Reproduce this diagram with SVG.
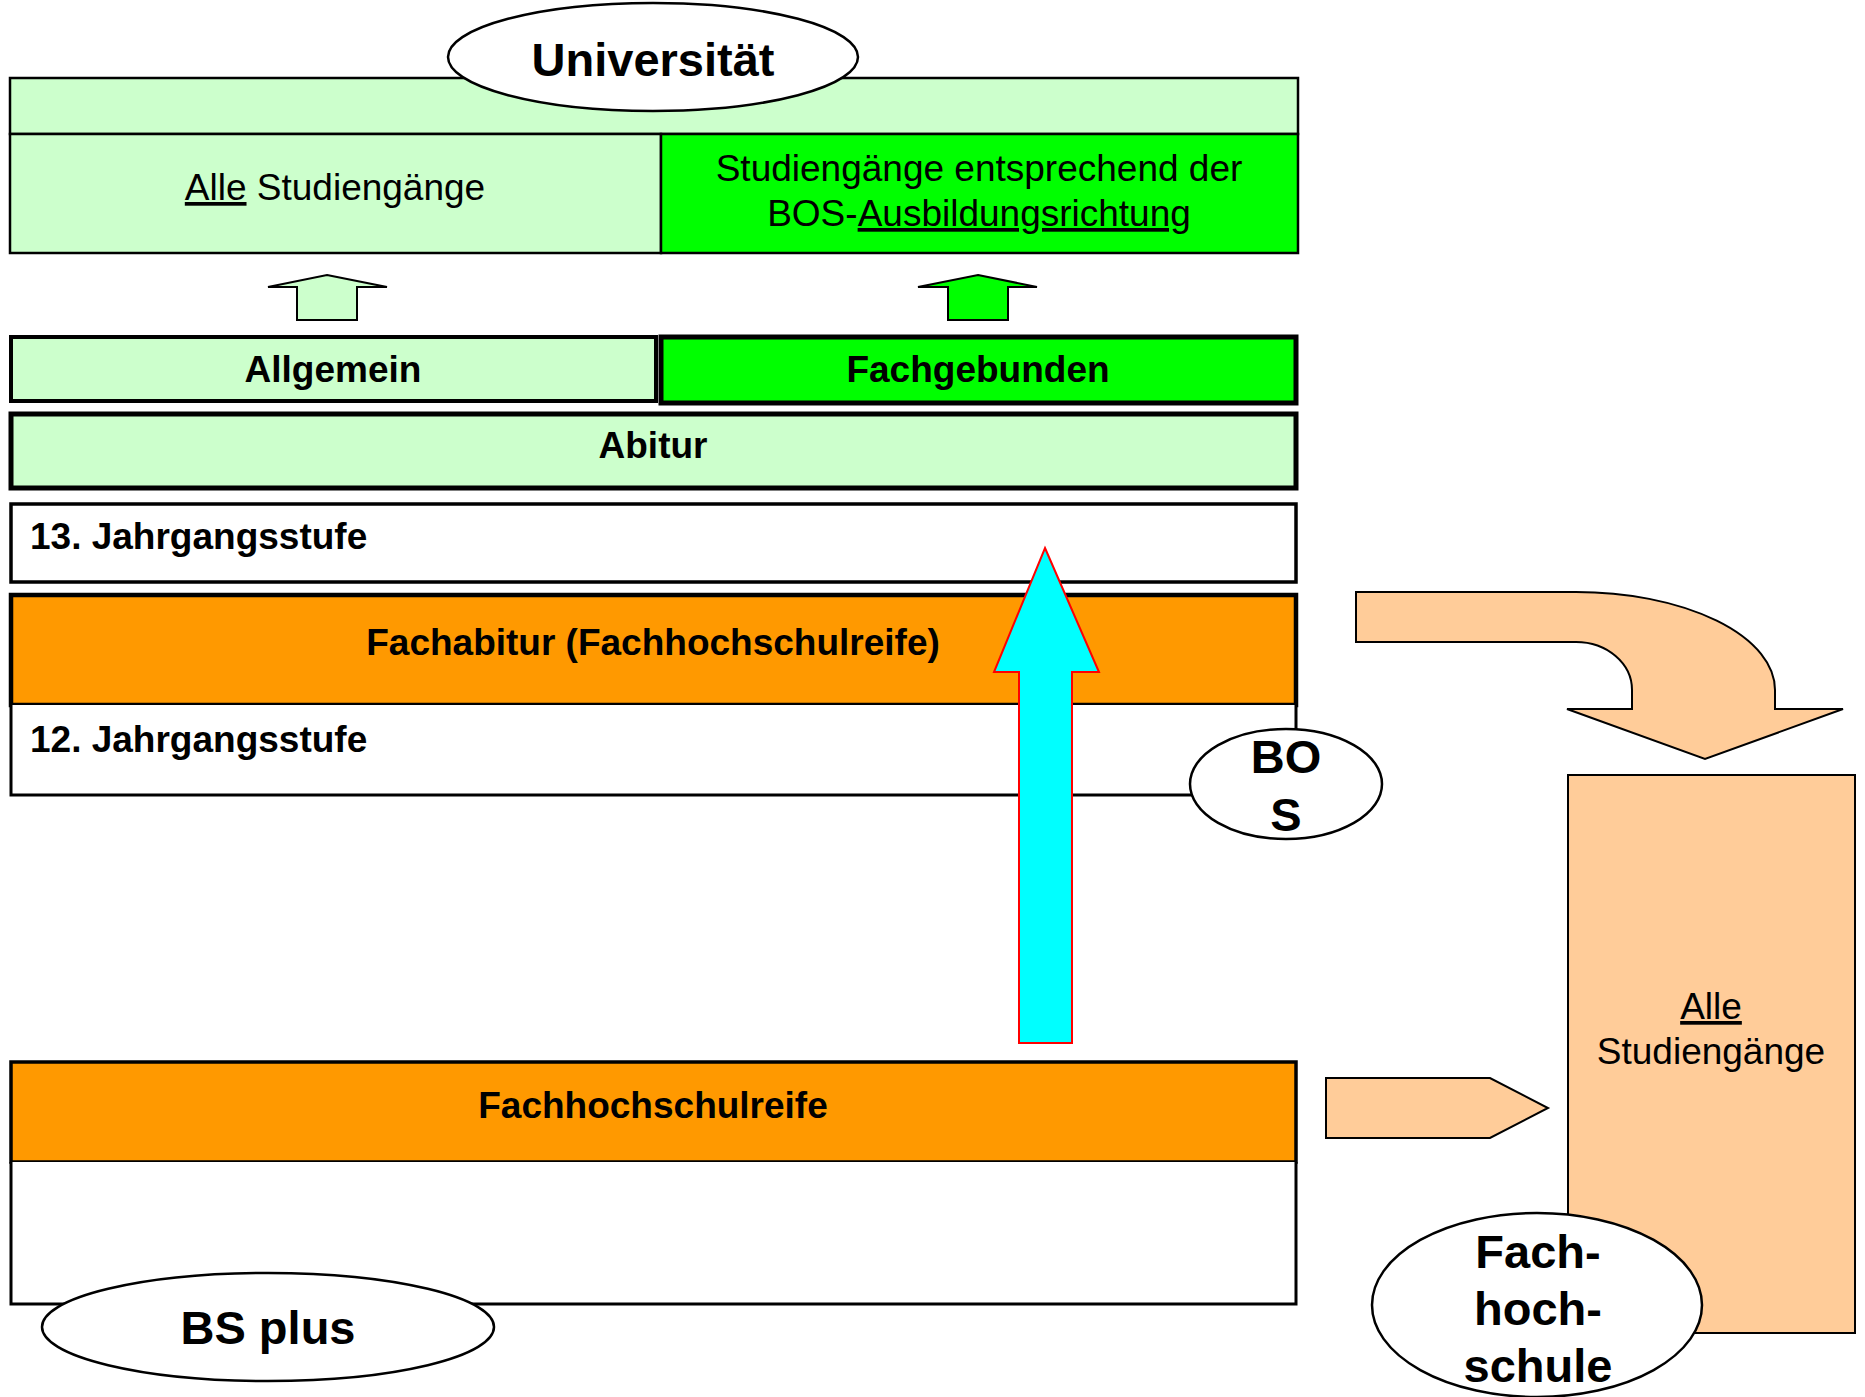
<svg xmlns="http://www.w3.org/2000/svg" width="1865" height="1397" viewBox="0 0 1865 1397">
<style>
  .b{font-family:"Liberation Sans",Arial,sans-serif;font-weight:bold;font-size:37px;fill:#000}
  .r{font-family:"Liberation Sans",Arial,sans-serif;font-size:37px;fill:#000}
  .big{font-family:"Liberation Sans",Arial,sans-serif;font-weight:bold;font-size:47px;fill:#000}
  .lg{fill:#CCFFCC}
  .g{fill:#00FF00}
  .o{fill:#FF9900}
  .p{fill:#FFCC99}
  .ell{fill:#fff;stroke:#000;stroke-width:2.5}
  .ln{stroke:#000;fill:none}
</style>
<rect width="1865" height="1397" fill="#fff"/>

<g id="uni-box">
  <rect x="10" y="78" width="1288" height="56" class="lg" stroke="#000" stroke-width="2.5"/>
  <rect x="10" y="134" width="651" height="119" class="lg" stroke="#000" stroke-width="2.5"/>
  <rect x="661" y="134" width="637" height="119" class="g" stroke="#000" stroke-width="2.5"/>
  <text class="r" x="335" y="200" text-anchor="middle"><tspan text-decoration="underline">Alle</tspan> Studiengänge</text>
  <text class="r" x="979" y="181" text-anchor="middle">Studiengänge entsprechend der</text>
  <text class="r" x="979" y="226" text-anchor="middle">BOS-<tspan text-decoration="underline">Ausbildungsrichtung</tspan></text>
</g>

<g id="allgemein">
  <rect x="11" y="337" width="645" height="64" class="lg" stroke="#000" stroke-width="4"/>
  <text class="b" x="333" y="382" text-anchor="middle">Allgemein</text>
</g>
<g id="fachgebunden">
  <rect x="661" y="337" width="635" height="66" class="g" stroke="#000" stroke-width="5"/>
  <text class="b" x="978" y="382" text-anchor="middle">Fachgebunden</text>
</g>
<g id="abitur">
  <rect x="11" y="414" width="1285" height="74" class="lg" stroke="#000" stroke-width="5"/>
  <text class="b" x="653" y="458" text-anchor="middle">Abitur</text>
</g>
<g id="jg13">
  <rect x="11" y="504" width="1285" height="78" fill="#fff" stroke="#000" stroke-width="3.5"/>
  <text class="b" x="30" y="549">13. Jahrgangsstufe</text>
</g>
<g id="fachabitur">
  <rect x="11" y="595" width="1285" height="110" class="o" stroke="#000" stroke-width="4.5"/>
  <text class="b" x="653" y="655" text-anchor="middle">Fachabitur (Fachhochschulreife)</text>
</g>
<g id="jg12">
  <path d="M11 705 V795 H1296 V705" fill="#fff" stroke="#000" stroke-width="3"/>
  <text class="b" x="30" y="752">12. Jahrgangsstufe</text>
</g>
<g id="fhr">
  <rect x="11" y="1062" width="1285" height="100" class="o" stroke="#000" stroke-width="3.5"/>
  <text class="b" x="653" y="1118" text-anchor="middle">Fachhochschulreife</text>
</g>
<g id="bsplus-box">
  <path d="M11 1162 V1304 H1296 V1162" fill="#fff" stroke="#000" stroke-width="3"/>
</g>
<g id="fh-box">
  <rect x="1568" y="775" width="287" height="558" class="p" stroke="#000" stroke-width="2"/>
  <text class="r" x="1711" y="1019" text-anchor="middle"><tspan text-decoration="underline">Alle</tspan></text>
  <text class="r" x="1711" y="1064" text-anchor="middle">Studiengänge</text>
</g>

<g id="connectors">
  <path d="M327 275 L387 287 L357 287 L357 320 L297 320 L297 287 L268 287 Z" class="lg" stroke="#000" stroke-width="2"/>
  <path d="M978 275 L1037 287 L1008 287 L1008 320 L948 320 L948 287 L918 287 Z" class="g" stroke="#000" stroke-width="2"/>
  <path d="M1045 548 L1099 672 L1072 672 L1072 1043 L1019 1043 L1019 672 L994 672 Z" fill="#00FFFF" stroke="#FF0000" stroke-width="2"/>
  <path d="M1356 592 L1576 592 A199 98 0 0 1 1775 690 L1775 709 L1843 709 L1705 759 L1567 709 L1632 709 L1632 690 A56 48 0 0 0 1576 642 L1356 642 Z" class="p" stroke="#000" stroke-width="2"/>
  <path d="M1326 1078 L1490 1078 L1548 1108 L1490 1138 L1326 1138 Z" class="p" stroke="#000" stroke-width="2"/>
</g>

<g id="universitaet">
  <ellipse cx="653" cy="57" rx="205" ry="54" class="ell"/>
  <text class="big" x="653" y="76" text-anchor="middle">Universität</text>
</g>
<g id="bos">
  <ellipse cx="1286" cy="784" rx="96" ry="55" class="ell"/>
  <text class="big" x="1286" y="773" text-anchor="middle">BO</text>
  <text class="big" x="1286" y="831" text-anchor="middle">S</text>
</g>
<g id="fachhochschule">
  <ellipse cx="1537" cy="1305" rx="165" ry="92" class="ell"/>
  <text class="big" x="1538" y="1268" text-anchor="middle">Fach-</text>
  <text class="big" x="1538" y="1325" text-anchor="middle">hoch-</text>
  <text class="big" x="1538" y="1382" text-anchor="middle">schule</text>
</g>
<g id="bsplus">
  <ellipse cx="268" cy="1327" rx="226" ry="54" class="ell"/>
  <text class="big" x="268" y="1344" text-anchor="middle">BS plus</text>
</g>
</svg>
